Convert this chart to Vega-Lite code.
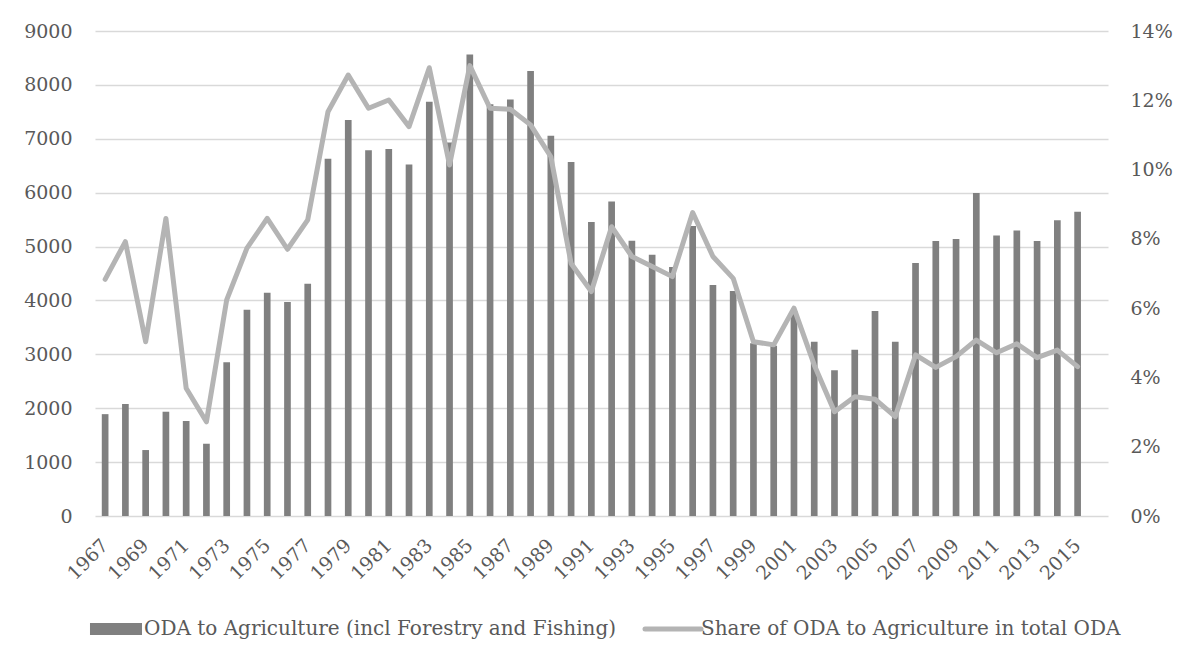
{
  "$schema": "https://vega.github.io/schema/vega-lite/v6.json",
  "autosize": {"type": "none"},
  "width": 1013,
  "height": 485,
  "padding": {"left": 95, "top": 31, "right": 87, "bottom": 148},
  "background": "white",
  "config": {
    "view": {"stroke": null},
    "font": "DejaVu Serif",
    "axis": {"labelFont": "DejaVu Serif", "labelColor": "#595959", "labelFontSize": 19, "title": null}
  },
  "data": {
    "values": [
      {"year": 1967, "oda": 1890, "share": 0.0683},
      {"year": 1968, "oda": 2080, "share": 0.0792},
      {"year": 1969, "oda": 1224, "share": 0.0503},
      {"year": 1970, "oda": 1935, "share": 0.0859},
      {"year": 1971, "oda": 1763, "share": 0.0369},
      {"year": 1972, "oda": 1341, "share": 0.0272},
      {"year": 1973, "oda": 2852, "share": 0.0624},
      {"year": 1974, "oda": 3828, "share": 0.0773},
      {"year": 1975, "oda": 4143, "share": 0.0859},
      {"year": 1976, "oda": 3970, "share": 0.0770},
      {"year": 1977, "oda": 4310, "share": 0.0855},
      {"year": 1978, "oda": 6629, "share": 0.1167},
      {"year": 1979, "oda": 7347, "share": 0.1273},
      {"year": 1980, "oda": 6785, "share": 0.1177},
      {"year": 1981, "oda": 6809, "share": 0.1201},
      {"year": 1982, "oda": 6525, "share": 0.1124},
      {"year": 1983, "oda": 7687, "share": 0.1294},
      {"year": 1984, "oda": 6933, "share": 0.1013},
      {"year": 1985, "oda": 8565, "share": 0.1300},
      {"year": 1986, "oda": 7640, "share": 0.1177},
      {"year": 1987, "oda": 7731, "share": 0.1174},
      {"year": 1988, "oda": 8256, "share": 0.1129},
      {"year": 1989, "oda": 7056, "share": 0.1037},
      {"year": 1990, "oda": 6568, "share": 0.0729},
      {"year": 1991, "oda": 5455, "share": 0.0648},
      {"year": 1992, "oda": 5838, "share": 0.0835},
      {"year": 1993, "oda": 5108, "share": 0.0749},
      {"year": 1994, "oda": 4848, "share": 0.0720},
      {"year": 1995, "oda": 4620, "share": 0.0691},
      {"year": 1996, "oda": 5380, "share": 0.0876},
      {"year": 1997, "oda": 4286, "share": 0.0749},
      {"year": 1998, "oda": 4174, "share": 0.0686},
      {"year": 1999, "oda": 3204, "share": 0.0503},
      {"year": 2000, "oda": 3160, "share": 0.0494},
      {"year": 2001, "oda": 3800, "share": 0.0600},
      {"year": 2002, "oda": 3234, "share": 0.0436},
      {"year": 2003, "oda": 2703, "share": 0.0301},
      {"year": 2004, "oda": 3086, "share": 0.0344},
      {"year": 2005, "oda": 3803, "share": 0.0337},
      {"year": 2006, "oda": 3234, "share": 0.0287},
      {"year": 2007, "oda": 4694, "share": 0.0465},
      {"year": 2008, "oda": 5102, "share": 0.0429},
      {"year": 2009, "oda": 5139, "share": 0.0460},
      {"year": 2010, "oda": 5993, "share": 0.0508},
      {"year": 2011, "oda": 5207, "share": 0.0471},
      {"year": 2012, "oda": 5300, "share": 0.0497},
      {"year": 2013, "oda": 5102, "share": 0.0457},
      {"year": 2014, "oda": 5486, "share": 0.0479},
      {"year": 2015, "oda": 5646, "share": 0.0431}
    ]
  },
  "encoding": {
    "x": {
      "field": "year",
      "type": "ordinal",
      "scale": {
        "domain": [1967,1968,1969,1970,1971,1972,1973,1974,1975,1976,1977,1978,1979,1980,1981,1982,1983,1984,1985,1986,1987,1988,1989,1990,1991,1992,1993,1994,1995,1996,1997,1998,1999,2000,2001,2002,2003,2004,2005,2006,2007,2008,2009,2010,2011,2012,2013,2014,2015,2016],
        "paddingInner": 0.67,
        "paddingOuter": 0.335
      },
      "axis": {
        "values": [1967,1969,1971,1973,1975,1977,1979,1981,1983,1985,1987,1989,1991,1993,1995,1997,1999,2001,2003,2005,2007,2009,2011,2013,2015],
        "labelAngle": -45,
        "labelAlign": "right",
        "labelBaseline": "middle",
        "labelPadding": 26,
        "ticks": false,
        "domain": false,
        "grid": false
      }
    }
  },
  "layer": [
    {
      "mark": {"type": "bar", "color": "#808080"},
      "encoding": {
        "y": {
          "field": "oda",
          "type": "quantitative",
          "scale": {"domain": [0, 9000], "nice": false},
          "axis": {
            "values": [0,1000,2000,3000,4000,5000,6000,7000,8000,9000],
            "ticks": false,
            "domain": false,
            "grid": true,
            "gridColor": "#d9d9d9",
            "gridWidth": 1.5,
            "labelPadding": 23,
            "format": "d"
          }
        },
        "color": {
          "datum": "ODA to Agriculture (incl Forestry and Fishing)",
          "type": "nominal",
          "scale": {
            "domain": ["ODA to Agriculture (incl Forestry and Fishing)", "Share of ODA to Agriculture in total ODA"],
            "range": ["#808080", "#b4b4b4"]
          },
          "legend": {
            "title": null,
            "orient": "none",
            "direction": "horizontal",
            "legendX": 11,
            "legendY": 588,
            "labelFont": "DejaVu Serif",
            "labelFontSize": 20,
            "labelColor": "#595959",
            "labelLimit": 0,
            "labelOffset": 18,
            "symbolSize": 3136,
            "columnPadding": 18,
            "encode": {
              "symbols": {
                "update": {
                  "shape": {"signal": "datum.value === 'ODA to Agriculture (incl Forestry and Fishing)' ? 'M-0.929,-0.214H0.929V0.214H-0.929Z' : 'M-1,0H1'"},
                  "fill": {"signal": "datum.value === 'ODA to Agriculture (incl Forestry and Fishing)' ? '#808080' : 'transparent'"},
                  "stroke": {"signal": "datum.value === 'ODA to Agriculture (incl Forestry and Fishing)' ? 'transparent' : '#b4b4b4'"},
                  "strokeWidth": {"signal": "datum.value === 'ODA to Agriculture (incl Forestry and Fishing)' ? 0 : 5"},
                  "strokeCap": {"value": "round"},
                  "opacity": {"value": 1}
                }
              }
            }
          }
        }
      }
    },
    {
      "mark": {"type": "line", "strokeWidth": 5, "strokeCap": "round", "strokeJoin": "round", "color": "#b4b4b4"},
      "encoding": {
        "y": {
          "field": "share",
          "type": "quantitative",
          "scale": {"domain": [0, 0.14], "nice": false},
          "axis": {
            "orient": "right",
            "values": [0,0.02,0.04,0.06,0.08,0.1,0.12,0.14],
            "format": ".0%",
            "ticks": false,
            "domain": false,
            "grid": false,
            "labelPadding": 22
          }
        },
        "color": {
          "datum": "Share of ODA to Agriculture in total ODA",
          "type": "nominal"
        }
      }
    }
  ],
  "resolve": {"scale": {"y": "independent"}}
}
